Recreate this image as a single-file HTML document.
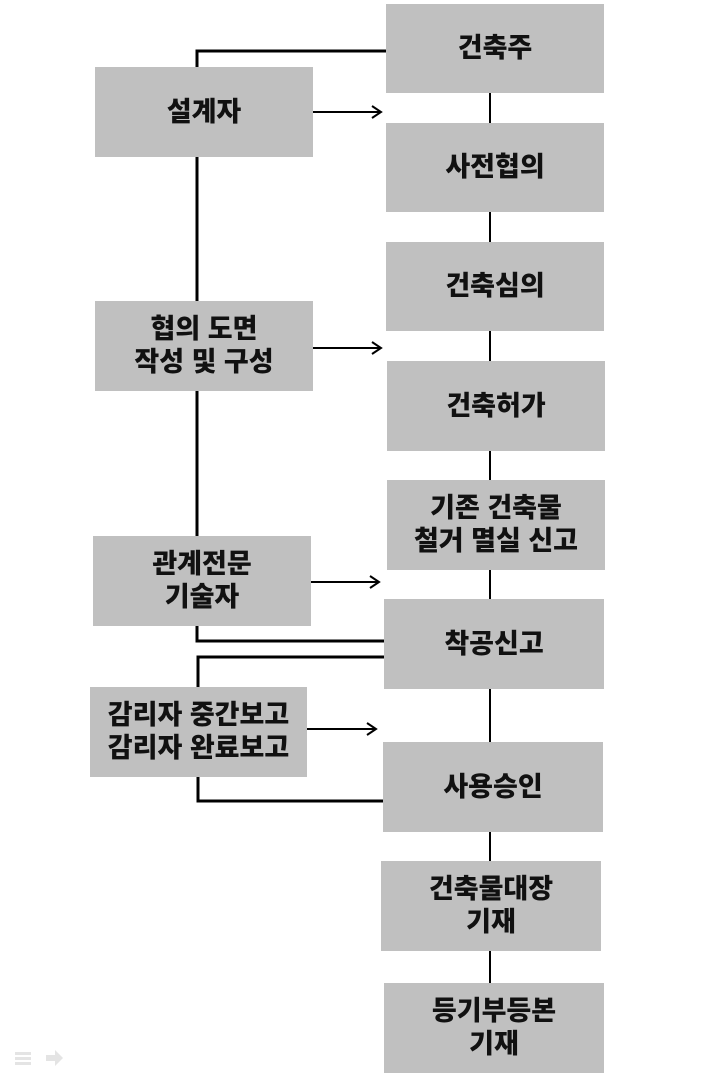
<!DOCTYPE html>
<html><head><meta charset="utf-8"><style>
body{margin:0;width:722px;height:1077px;background:#fff;position:relative;overflow:hidden}
.b{position:absolute;background:#c0c0c0;display:flex;align-items:center;justify-content:center;text-align:center;font-family:"Liberation Sans","Noto Sans CJK KR",sans-serif;font-weight:900;font-size:27px;line-height:33px;color:#111}
svg{position:absolute;left:0;top:0}
</style></head><body>
<svg width="722" height="1077">
<g stroke="#000" stroke-width="3" fill="none">
<polyline points="386,51 197,51 197,641 384,641"/>
<polyline points="384,657 198,657 198,801 383,801"/>
<line x1="490" y1="93" x2="490" y2="983" stroke-width="2"/>
</g>
<g stroke="#000" stroke-width="2" fill="none">
<line x1="313" y1="112" x2="381" y2="112"/><polyline points="372,106 381,112 372,118"/>
<line x1="313" y1="348" x2="381" y2="348"/><polyline points="372,342 381,348 372,354"/>
<line x1="311" y1="582" x2="379" y2="582"/><polyline points="370,576 379,582 370,588"/>
<line x1="307" y1="729" x2="376" y2="729"/><polyline points="367,723 376,729 367,735"/>
</g>
<g fill="#e4e4e4">
<rect x="15" y="1052" width="16" height="3"/><rect x="15" y="1057" width="16" height="3"/><rect x="15" y="1062" width="16" height="3"/>
<polygon points="46,1055 55,1055 55,1050 63,1058 55,1066 55,1061 46,1061"/>
</g>
</svg>
<div class="b" style="left:386px;top:4px;width:218px;height:89px">건축주</div>
<div class="b" style="left:386px;top:123px;width:218px;height:89px">사전협의</div>
<div class="b" style="left:386px;top:242px;width:218px;height:89px">건축심의</div>
<div class="b" style="left:387px;top:361px;width:218px;height:90px">건축허가</div>
<div class="b" style="left:387px;top:480px;width:218px;height:90px">기존 건축물<br>철거 멸실 신고</div>
<div class="b" style="left:384px;top:599px;width:220px;height:90px">착공신고</div>
<div class="b" style="left:383px;top:742px;width:220px;height:90px">사용승인</div>
<div class="b" style="left:381px;top:861px;width:220px;height:90px">건축물대장<br>기재</div>
<div class="b" style="left:384px;top:983px;width:220px;height:90px">등기부등본<br>기재</div>
<div class="b" style="left:95px;top:67px;width:218px;height:90px">설계자</div>
<div class="b" style="left:95px;top:301px;width:218px;height:90px">협의 도면<br>작성 및 구성</div>
<div class="b" style="left:93px;top:536px;width:218px;height:90px">관계전문<br>기술자</div>
<div class="b" style="left:90px;top:687px;width:217px;height:90px">감리자 중간보고<br>감리자 완료보고</div>
</body></html>
